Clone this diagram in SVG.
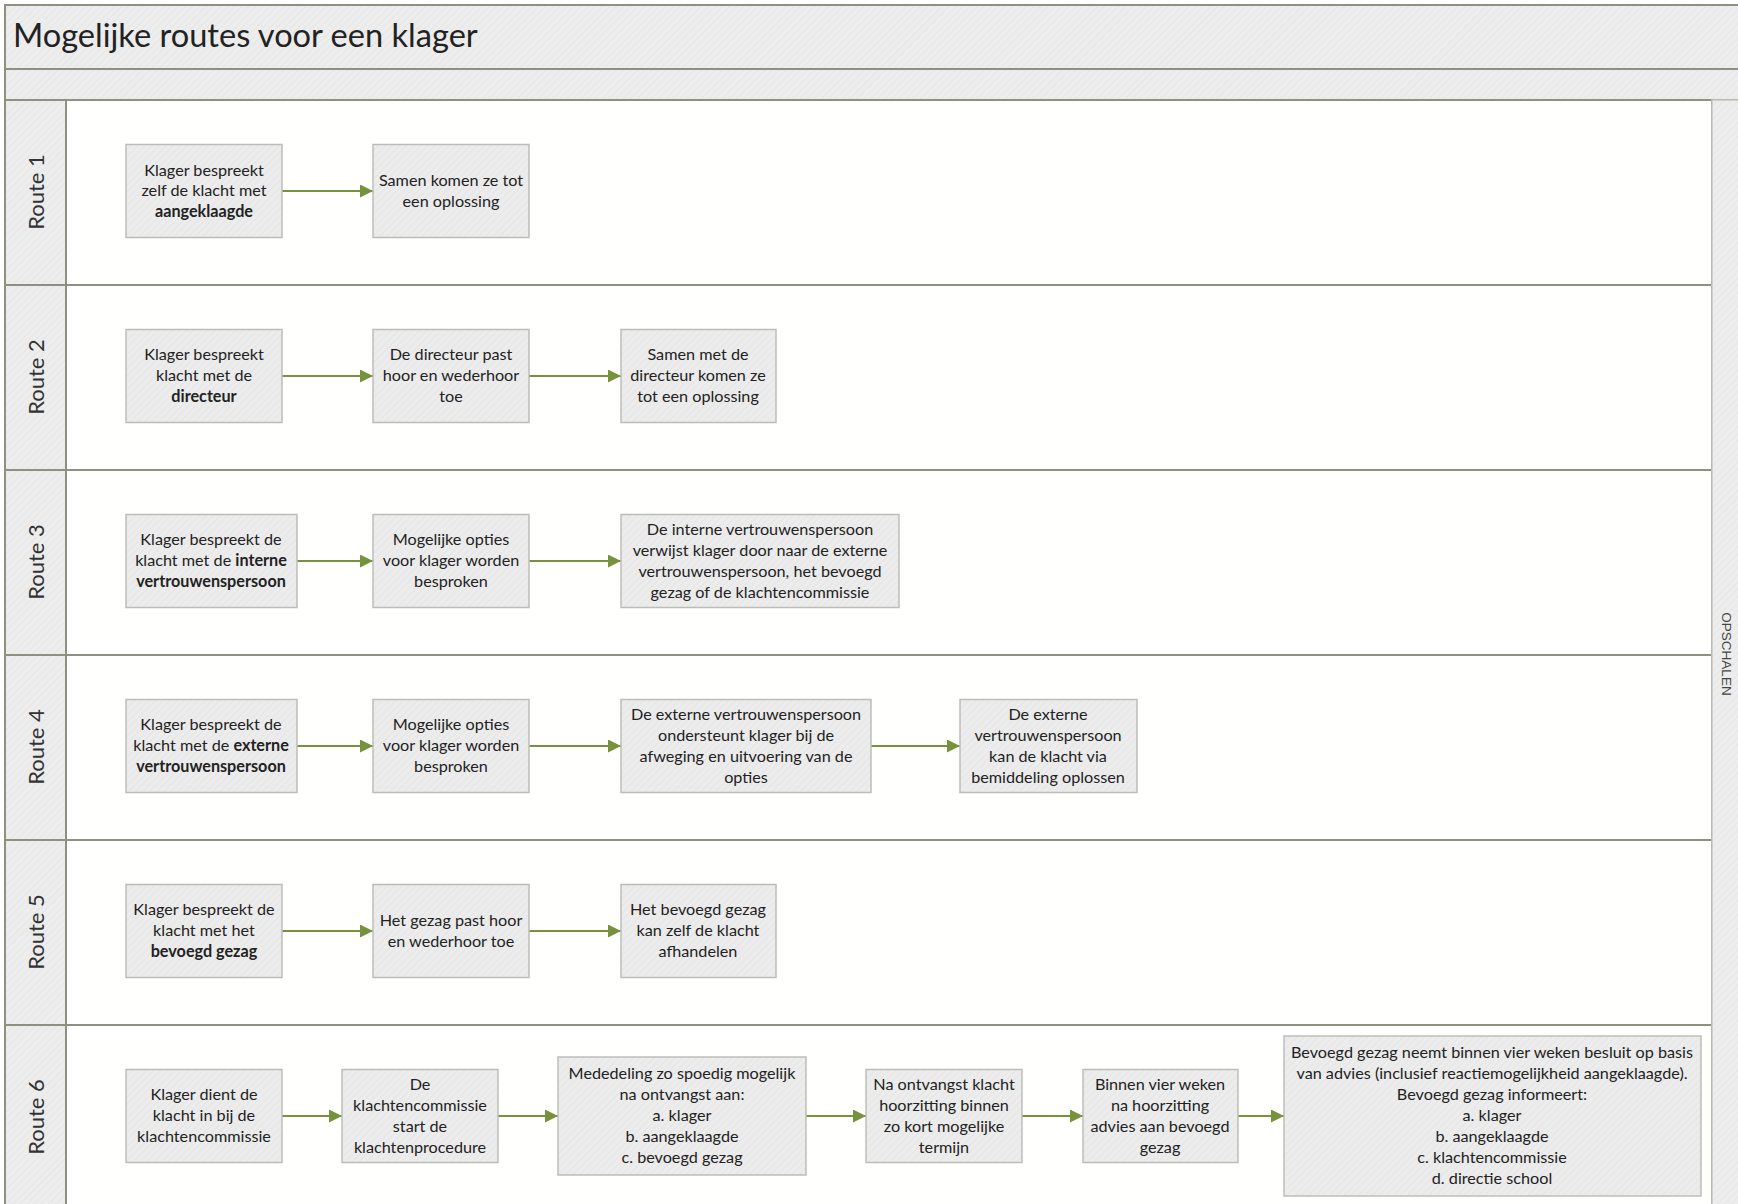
<svg xmlns="http://www.w3.org/2000/svg" width="1738" height="1204" viewBox="0 0 1738 1204">
<defs>
<pattern id="hatch" width="5" height="5" patternUnits="userSpaceOnUse" patternTransform="rotate(45)">
<rect width="5" height="5" fill="#EDEDED"/>
<line x1="0" y1="0" x2="0" y2="5" stroke="#E4E4E4" stroke-width="1.5"/>
</pattern>
<pattern id="bhatch" width="5" height="5" patternUnits="userSpaceOnUse" patternTransform="rotate(45)">
<rect width="5" height="5" fill="#ECECEC"/>
<line x1="0" y1="0" x2="0" y2="5" stroke="#E3E3E3" stroke-width="1.5"/>
</pattern>
<marker id="arr" viewBox="0 0 12 12" refX="12" refY="6" markerWidth="13" markerHeight="13" markerUnits="userSpaceOnUse" orient="auto">
<path d="M0,0 L12,6 L0,12 Z" fill="#76923C"/>
</marker>
</defs>
<style>
.bar{fill:url(#hatch);stroke:#8E9082;stroke-width:2}
.lane{fill:#FFFFFE;stroke:#8E9082;stroke-width:2}
.col{fill:url(#hatch);stroke:#8E9082;stroke-width:2}
.box{fill:url(#bhatch);stroke:#BDBDB8;stroke-width:1.5}
.t{font-family:Lato,"Liberation Sans",sans-serif;font-size:16.2px;fill:#222;text-anchor:middle}
.b{font-weight:bold}
.title{font-family:Lato,"Liberation Sans",sans-serif;font-size:32.6px;fill:#222}
.rl{font-family:Lato,"Liberation Sans",sans-serif;font-size:22px;fill:#333;text-anchor:middle}
.op{font-family:"Liberation Sans",sans-serif;font-size:13.5px;fill:#444;text-anchor:middle}
.c{stroke:#76923C;stroke-width:2.2;fill:none;marker-end:url(#arr)}
</style>
<rect width="1738" height="1204" fill="#FFFFFF"/>
<g id="frame">
<rect class="bar" x="5" y="5" width="1740" height="64"/>
<rect class="bar" x="5" y="69" width="1740" height="31"/>
<text class="title" x="13" y="47">Mogelijke routes voor een klager</text>
<rect class="lane" x="66" y="100" width="1646" height="185"/>
<rect class="lane" x="66" y="285" width="1646" height="185"/>
<rect class="lane" x="66" y="470" width="1646" height="185"/>
<rect class="lane" x="66" y="655" width="1646" height="185"/>
<rect class="lane" x="66" y="840" width="1646" height="185"/>
<rect class="lane" x="66" y="1025" width="1646" height="200"/>
<rect class="col" x="5" y="100" width="61" height="185"/>
<rect class="col" x="5" y="285" width="61" height="185"/>
<rect class="col" x="5" y="470" width="61" height="185"/>
<rect class="col" x="5" y="655" width="61" height="185"/>
<rect class="col" x="5" y="840" width="61" height="185"/>
<rect class="col" x="5" y="1025" width="61" height="200"/>
<rect x="1712" y="100" width="30" height="1110" fill="url(#hatch)" stroke="#C8C8C0" stroke-width="1.5"/>
<text class="rl" transform="translate(44,192) rotate(-90)">Route 1</text>
<text class="rl" transform="translate(44,377) rotate(-90)">Route 2</text>
<text class="rl" transform="translate(44,562) rotate(-90)">Route 3</text>
<text class="rl" transform="translate(44,747) rotate(-90)">Route 4</text>
<text class="rl" transform="translate(44,932) rotate(-90)">Route 5</text>
<text class="rl" transform="translate(44,1117) rotate(-90)">Route 6</text>
<text class="op" transform="translate(1722,654) rotate(90)">OPSCHALEN</text>
</g>

<g id="connectors">
<line class="c" x1="282" y1="191" x2="373" y2="191"/>
<line class="c" x1="282" y1="376" x2="373" y2="376"/>
<line class="c" x1="529" y1="376" x2="621" y2="376"/>
<line class="c" x1="297" y1="561" x2="373" y2="561"/>
<line class="c" x1="529" y1="561" x2="621" y2="561"/>
<line class="c" x1="297" y1="746" x2="373" y2="746"/>
<line class="c" x1="529" y1="746" x2="621" y2="746"/>
<line class="c" x1="871" y1="746" x2="960" y2="746"/>
<line class="c" x1="282" y1="931" x2="373" y2="931"/>
<line class="c" x1="529" y1="931" x2="621" y2="931"/>
<line class="c" x1="282" y1="1116" x2="342" y2="1116"/>
<line class="c" x1="498" y1="1116" x2="558" y2="1116"/>
<line class="c" x1="806" y1="1116" x2="866" y2="1116"/>
<line class="c" x1="1022" y1="1116" x2="1083" y2="1116"/>
<line class="c" x1="1238" y1="1116" x2="1284" y2="1116"/>
</g>

<g id="r1a"><rect class="box" x="126" y="144.5" width="156" height="93"/>
<text class="t" x="204" y="176">Klager bespreekt</text><text class="t" x="204" y="196">zelf de klacht met</text><text class="t b" x="204" y="217">aangeklaagde</text></g>
<g id="r1b"><rect class="box" x="373" y="144.5" width="156" height="93"/>
<text class="t" x="451" y="186">Samen komen ze tot</text><text class="t" x="451" y="207">een oplossing</text></g>

<g id="r2a"><rect class="box" x="126" y="329.5" width="156" height="93"/>
<text class="t" x="204" y="360">Klager bespreekt</text><text class="t" x="204" y="381">klacht met de</text><text class="t b" x="204" y="402">directeur</text></g>
<g id="r2b"><rect class="box" x="373" y="329.5" width="156" height="93"/>
<text class="t" x="451" y="360">De directeur past</text><text class="t" x="451" y="381">hoor en wederhoor</text><text class="t" x="451" y="402">toe</text></g>
<g id="r2c"><rect class="box" x="621" y="329.5" width="155" height="93"/>
<text class="t" x="698" y="360">Samen met de</text><text class="t" x="698" y="381">directeur komen ze</text><text class="t" x="698" y="402">tot een oplossing</text></g>

<g id="r3a"><rect class="box" x="126" y="514.5" width="171" height="93"/>
<text class="t" x="211" y="545">Klager bespreekt de</text><text class="t" x="211" y="566">klacht met de <tspan class="b">interne</tspan></text><text class="t b" x="211" y="587">vertrouwenspersoon</text></g>
<g id="r3b"><rect class="box" x="373" y="514.5" width="156" height="93"/>
<text class="t" x="451" y="545">Mogelijke opties</text><text class="t" x="451" y="566">voor klager worden</text><text class="t" x="451" y="587">besproken</text></g>
<g id="r3c"><rect class="box" x="621" y="514.5" width="278" height="93"/>
<text class="t" x="760" y="535">De interne vertrouwenspersoon</text><text class="t" x="760" y="556">verwijst klager door naar de externe</text><text class="t" x="760" y="577">vertrouwenspersoon, het bevoegd</text><text class="t" x="760" y="598">gezag of de klachtencommissie</text></g>

<g id="r4a"><rect class="box" x="126" y="699.5" width="171" height="93"/>
<text class="t" x="211" y="730">Klager bespreekt de</text><text class="t" x="211" y="751">klacht met de <tspan class="b">externe</tspan></text><text class="t b" x="211" y="772">vertrouwenspersoon</text></g>
<g id="r4b"><rect class="box" x="373" y="699.5" width="156" height="93"/>
<text class="t" x="451" y="730">Mogelijke opties</text><text class="t" x="451" y="751">voor klager worden</text><text class="t" x="451" y="772">besproken</text></g>
<g id="r4c"><rect class="box" x="621" y="699.5" width="250" height="93"/>
<text class="t" x="746" y="720">De externe vertrouwenspersoon</text><text class="t" x="746" y="741">ondersteunt klager bij de</text><text class="t" x="746" y="762">afweging en uitvoering van de</text><text class="t" x="746" y="783">opties</text></g>
<g id="r4d"><rect class="box" x="960" y="699.5" width="177" height="93"/>
<text class="t" x="1048" y="720">De externe</text><text class="t" x="1048" y="741">vertrouwenspersoon</text><text class="t" x="1048" y="762">kan de klacht via</text><text class="t" x="1048" y="783">bemiddeling oplossen</text></g>

<g id="r5a"><rect class="box" x="126" y="884.5" width="156" height="93"/>
<text class="t" x="204" y="915">Klager bespreekt de</text><text class="t" x="204" y="936">klacht met het</text><text class="t b" x="204" y="957">bevoegd gezag</text></g>
<g id="r5b"><rect class="box" x="373" y="884.5" width="156" height="93"/>
<text class="t" x="451" y="926">Het gezag past hoor</text><text class="t" x="451" y="947">en wederhoor toe</text></g>
<g id="r5c"><rect class="box" x="621" y="884.5" width="155" height="93"/>
<text class="t" x="698" y="915">Het bevoegd gezag</text><text class="t" x="698" y="936">kan zelf de klacht</text><text class="t" x="698" y="957">afhandelen</text></g>

<g id="r6a"><rect class="box" x="126" y="1069.5" width="156" height="93"/>
<text class="t" x="204" y="1100">Klager dient de</text><text class="t" x="204" y="1121">klacht in bij de</text><text class="t" x="204" y="1142">klachtencommissie</text></g>
<g id="r6b"><rect class="box" x="342" y="1069.5" width="156" height="93"/>
<text class="t" x="420" y="1090">De</text><text class="t" x="420" y="1111">klachtencommissie</text><text class="t" x="420" y="1132">start de</text><text class="t" x="420" y="1153">klachtenprocedure</text></g>
<g id="r6c"><rect class="box" x="558" y="1057" width="248" height="118"/>
<text class="t" x="682" y="1079">Mededeling zo spoedig mogelijk</text><text class="t" x="682" y="1100">na ontvangst aan:</text><text class="t" x="682" y="1121">a. klager</text><text class="t" x="682" y="1142">b. aangeklaagde</text><text class="t" x="682" y="1163">c. bevoegd gezag</text></g>
<g id="r6d"><rect class="box" x="866" y="1069.5" width="156" height="93"/>
<text class="t" x="944" y="1090">Na ontvangst klacht</text><text class="t" x="944" y="1111">hoorzitting binnen</text><text class="t" x="944" y="1132">zo kort mogelijke</text><text class="t" x="944" y="1153">termijn</text></g>
<g id="r6e"><rect class="box" x="1083" y="1069.5" width="155" height="93"/>
<text class="t" x="1160" y="1090">Binnen vier weken</text><text class="t" x="1160" y="1111">na hoorzitting</text><text class="t" x="1160" y="1132">advies aan bevoegd</text><text class="t" x="1160" y="1153">gezag</text></g>
<g id="r6f"><rect class="box" x="1284" y="1036" width="417" height="160"/>
<text class="t" x="1492" y="1058">Bevoegd gezag neemt binnen vier weken besluit op basis</text><text class="t" x="1492" y="1079">van advies (inclusief reactiemogelijkheid aangeklaagde).</text><text class="t" x="1492" y="1100">Bevoegd gezag informeert:</text><text class="t" x="1492" y="1121">a. klager</text><text class="t" x="1492" y="1142">b. aangeklaagde</text><text class="t" x="1492" y="1163">c. klachtencommissie</text><text class="t" x="1492" y="1184">d. directie school</text></g>
</svg>
